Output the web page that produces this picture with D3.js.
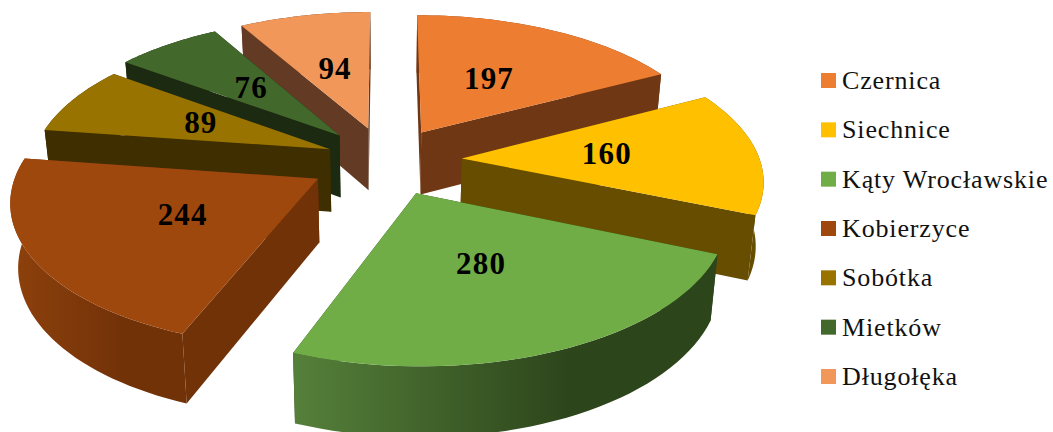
<!DOCTYPE html>
<html><head><meta charset="utf-8">
<script src="https://cdn.jsdelivr.net/npm/d3@7/dist/d3.min.js"></script>
<style>html,body{margin:0;padding:0;background:#fff}svg{display:block}</style></head>
<body><svg id="c" width="1053" height="432"></svg>
<script>
const categories=["Czernica","Siechnice","Kąty Wrocławskie","Kobierzyce","Sobótka","Mietków","Długołęka"];
const values=[197,160,280,244,89,76,94];
const topColors=["#ED7D31","#FFC000","#70AD47","#9E480E","#997300","#43682B","#F1975A"];
const wallColors=["#703714","#664D00","#2D451B","#723208","#3E2E00","#1B2A10","#633B24"];
const outerLight=["#8A4518","#664D00","#55803A","#8E410C","#3E2E00","#1B2A10","#633B24"];
const explodeBy=[0.235,0.255,0.25,0.26,0.205,0.24,0.24];
const labelFrac=0.49;
const paintOrder=[6,5,4,3,0,1,2];

const W=1053,H=432,cx=386,cy=160,f=7.43,Rx=298,Ry=140;
const svg=d3.select("#c");
const defs=svg.append("defs");
const pie=d3.pie().sort(null).value(d=>d)(values);

function proj(u,v){const s=f/(f+v);return {x:cx+u*s*Rx,y:cy-v*s*Ry,s};}
function drop(p){return {x:cx+(p.x-cx)*0.979,y:p.y+23+40*p.s};}
const line=d3.line().x(d=>d.x).y(d=>d.y);
function area(pts){return d3.polygonArea(pts.map(p=>[p.x,p.y]));}

paintOrder.forEach(i=>{
  const a=pie[i],mid=(a.startAngle+a.endAngle)/2,e=explodeBy[i];
  const ou=Math.sin(mid)*e,ov=Math.cos(mid)*e;
  const angles=d3.range(0,41).map(k=>a.startAngle+(a.endAngle-a.startAngle)*k/40);
  const rim=angles.map(t=>proj(ou+Math.sin(t),ov+Math.cos(t)));
  const apex=proj(ou,ov);
  const rimLow=rim.map(drop),apexLow=drop(apex);
  const g=svg.append("g");
  const startWall=[apex,rim[0],rimLow[0],apexLow],endWall=[apex,rim[40],rimLow[40],apexLow];
  const startFront=area(startWall)>0,endFront=area(endWall)<0;
  if(!startFront) g.append("path").attr("d",line(startWall)+"Z").attr("fill",wallColors[i]);
  if(!endFront) g.append("path").attr("d",line(endWall)+"Z").attr("fill",wallColors[i]);
  const gid="grad"+i,ext=d3.extent(rim,d=>d.x);
  const lg=defs.append("linearGradient").attr("id",gid).attr("gradientUnits","userSpaceOnUse")
    .attr("x1",ext[0]).attr("x2",ext[1]).attr("y1",0).attr("y2",0);
  lg.append("stop").attr("offset",0).attr("stop-color",outerLight[i]);
  lg.append("stop").attr("offset",0.65).attr("stop-color",wallColors[i]);
  lg.append("stop").attr("offset",1).attr("stop-color",wallColors[i]);
  g.append("path").attr("d",line(rim.concat(rimLow.slice().reverse()))+"Z").attr("fill",`url(#${gid})`);
  if(startFront) g.append("path").attr("d",line(startWall)+"Z").attr("fill",wallColors[i]);
  if(endFront) g.append("path").attr("d",line(endWall)+"Z").attr("fill",wallColors[i]);
  g.append("path").attr("d",line([apex].concat(rim))+"Z").attr("fill",topColors[i]);
});
pie.forEach((a,i)=>{
  const mid=(a.startAngle+a.endAngle)/2,q=explodeBy[i]+labelFrac;
  const p=proj(Math.sin(mid)*q,Math.cos(mid)*q);
  svg.append("text").attr("x",p.x).attr("y",p.y+9).attr("text-anchor","middle")
    .attr("font-family","Liberation Serif").attr("font-weight","bold").attr("font-size",31)
    .attr("letter-spacing",1.2).attr("fill","#000").text(values[i]);
});
const ly=d3.scalePoint().domain(categories).range([73,369]);
const leg=svg.selectAll("g.l").data(categories).join("g").attr("class","l");
leg.append("rect").attr("x",821).attr("y",d=>ly(d)).attr("width",15).attr("height",15).attr("fill",(d,i)=>topColors[i]);
leg.append("text").attr("x",842).attr("y",d=>ly(d)+16).attr("font-family","Liberation Serif").attr("font-size",26)
  .attr("letter-spacing",0.85).attr("fill","#111").text(d=>d);
</script></body></html>
